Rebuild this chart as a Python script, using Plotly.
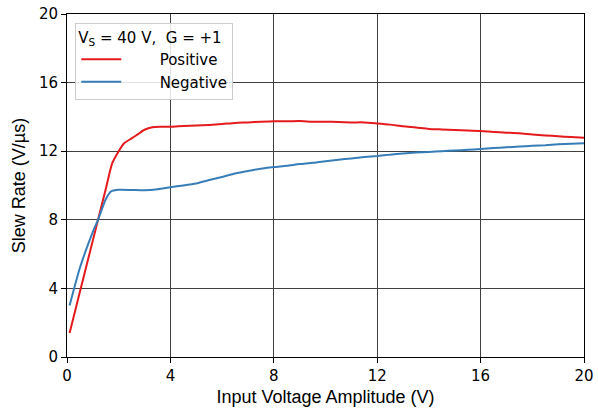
import plotly.graph_objects as go

# Input amplitude (V) vs slew rate (V/us)
pos_x = [0.1, 0.5, 1.0, 1.2, 1.5, 1.75, 2.0, 2.2, 2.5, 2.75, 3.0, 3.3, 3.6, 4.0,
         4.5, 5.0, 5.5, 6.0, 6.5, 7.0, 7.5, 8.0, 8.5, 9.0, 9.5, 10.0, 10.5,
         11.0, 11.5, 12.0, 12.5, 13.0, 13.5, 14.0, 14.5, 15.0, 15.5, 16.0,
         16.5, 17.0, 17.5, 18.0, 18.5, 19.0, 19.5, 20.0]
pos_y = [1.4, 3.8, 6.8, 8.0, 9.8, 11.3, 12.0, 12.45, 12.75, 13.0, 13.25, 13.4,
         13.43, 13.42, 13.47, 13.5, 13.53, 13.58, 13.65, 13.68, 13.72, 13.75,
         13.74, 13.76, 13.72, 13.72, 13.7, 13.68, 13.68, 13.62, 13.55, 13.45,
         13.38, 13.3, 13.27, 13.24, 13.2, 13.18, 13.12, 13.08, 13.04, 12.97,
         12.92, 12.87, 12.83, 12.79]

neg_x = [0.1, 0.5, 1.0, 1.2, 1.5, 1.7, 2.0, 2.5, 3.0, 3.5, 4.0, 4.5, 5.0, 5.5,
         6.0, 6.5, 7.0, 7.5, 8.0, 8.5, 9.0, 9.5, 10.0, 10.5, 11.0, 11.5, 12.0,
         12.5, 13.0, 13.5, 14.0, 14.5, 15.0, 15.5, 16.0, 16.5, 17.0, 17.5,
         18.0, 18.5, 19.0, 19.5, 20.0]
neg_y = [3.0, 5.2, 7.3, 8.0, 9.2, 9.65, 9.75, 9.74, 9.72, 9.78, 9.9, 10.0,
         10.12, 10.32, 10.5, 10.7, 10.85, 10.98, 11.08, 11.15, 11.25, 11.32,
         11.42, 11.5, 11.58, 11.66, 11.72, 11.8, 11.86, 11.92, 11.96, 12.0,
         12.04, 12.08, 12.13, 12.18, 12.23, 12.27, 12.32, 12.35, 12.4, 12.43,
         12.46]

x_ticks = [0, 4, 8, 12, 16, 20]
y_ticks = [0, 4, 8, 12, 16, 20]

TICK_FONT = "DejaVu Sans, sans-serif"
TITLE_FONT = "Liberation Sans, Arial, sans-serif"
# legend text sits further from the line sample in the reference
PAD = "\u00a0" * 7

fig = go.Figure()
fig.add_trace(go.Scatter(x=pos_x, y=pos_y, mode="lines", name=PAD + "Positive",
                         line=dict(color="#e41a1c", width=2, shape="spline", smoothing=0.6)))
fig.add_trace(go.Scatter(x=neg_x, y=neg_y, mode="lines", name=PAD + "Negative",
                         line=dict(color="#377eb8", width=2, shape="spline", smoothing=0.6)))

axis_common = dict(
    showline=True, linecolor="black", linewidth=1, mirror=True,
    showgrid=True, gridcolor="#404040", gridwidth=1,
    ticks="outside", ticklen=5, tickcolor="black",
    tickfont=dict(family=TICK_FONT, size=15, color="black"), zeroline=False,
    ticklabeloverflow="allow",
)

fig.update_layout(
    width=598, height=409,
    margin=dict(l=67, r=14, t=14, b=52, autoexpand=False),
    paper_bgcolor="white", plot_bgcolor="white",
    font=dict(family=TICK_FONT, color="black"),
    showlegend=True,
    legend=dict(
        x=0.016, y=0.975, xanchor="left", yanchor="top",
        title=dict(text="V<sub>S</sub> = 40 V,  G = +1",
                   font=dict(family=TICK_FONT, size=15)),
        font=dict(family=TICK_FONT, size=15),
        bgcolor="rgba(255,255,255,0.85)", bordercolor="#cccccc", borderwidth=1,
        itemwidth=40, tracegroupgap=0,
    ),
    xaxis=dict(range=[0, 20], tickvals=x_ticks,
               title=dict(text="Input Voltage Amplitude (V)", standoff=6,
                          font=dict(family=TITLE_FONT, size=18)),
               **axis_common),
    yaxis=dict(range=[0, 20], tickvals=y_ticks,
               title=dict(text="Slew Rate (V/µs)", standoff=8,
                          font=dict(family=TITLE_FONT, size=18)),
               **axis_common),
)

# drop the browser's default body margin so the figure sits at the page corner
fig.write_html("out.html", config={"displayModeBar": False},
               post_script="document.body.style.margin = '0';")
